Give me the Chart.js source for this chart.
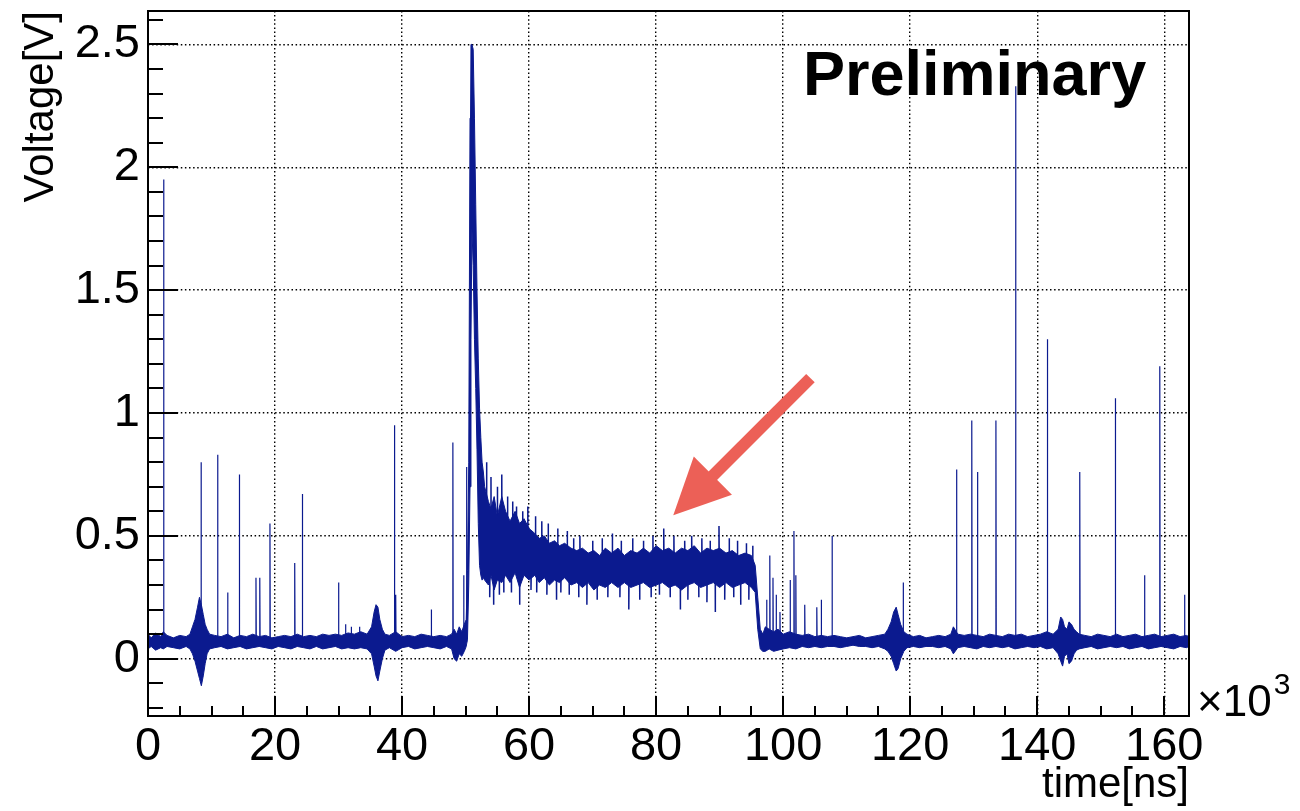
<!DOCTYPE html>
<html>
<head>
<meta charset="utf-8">
<title>Voltage vs time</title>
<script src="https://cdn.jsdelivr.net/npm/chart.js@4.4.1/dist/chart.umd.min.js"></script>
<style>
  html, body { margin: 0; padding: 0; background: #fff; }
  #wrap { width: 1300px; height: 811px; }
</style>
</head>
<body>
<div id="wrap"><canvas id="scope"></canvas></div>
<script>
// waveform: time in 10^3 ns, voltage in V
// the trace is kept as a band (upper / lower edge of the noise) ...
const envT = [
  0, 0.5, 1.2, 2, 2.4, 3, 4, 5, 6, 6.6,
  7.0, 7.4, 7.8, 8.1, 8.4, 8.7, 9.0, 9.3, 9.7,
  10.5, 11.5, 12.5, 13.5, 14.5, 15.5, 16.5, 17.5, 18.5, 19.5, 20.5, 21.5, 22.5,
  23.5, 24.5, 25.5, 26.5, 27.5, 28.5, 29.5, 30.5, 31.5, 32.5, 33.5, 34.5,
  35.2, 35.6, 35.9, 36.2, 36.5, 36.9, 37.3,
  38, 39, 40, 41, 42, 43, 44, 45, 46, 47, 47.8,
  48.2, 48.6, 49.0, 49.4, 49.8, 50.1,
  50.3, 50.5, 50.7, 50.85, 51.0, 51.2, 51.4, 51.6, 51.8, 52.0, 52.2, 52.4, 52.6, 52.8,
  53.0, 53.6, 54.0, 54.5, 55.0, 55.7, 56.3, 57.0, 57.8, 58.5, 59.2, 60.0, 60.9,
  61.6, 62.4, 63.2, 64.0, 64.8, 65.6, 66.6, 67.5, 68.4, 69.3, 70.2, 71.1, 72.0,
  73, 74, 75, 76, 77, 78, 79, 80, 81, 82, 83, 84, 85, 86, 87, 88, 89, 90, 91, 92, 93, 94, 95,
  95.6, 96.0, 96.4, 96.8,
  97.2, 97.8, 98.5, 99.2, 100, 101, 102, 103, 104, 105, 106, 107, 108, 109, 110,
  111, 112, 113, 114, 115, 116,
  116.5, 117.0, 117.4, 117.8, 118.1, 118.5, 119.0, 119.5,
  120.5, 121.5, 122.5, 123.5, 124.5, 125.5, 126.4, 126.8, 127.5, 128.5, 129.5, 130.5,
  131.5, 132.5, 133.5, 134.5, 135.5, 136.5, 137.5, 138.5, 139.5, 140.5, 141.5, 142.5,
  143.3, 143.7, 144.0, 144.3, 144.7, 145.0, 145.4, 145.8, 146.2, 146.6,
  147.5, 148.5, 149.5, 150.5, 151.5, 152.5, 153.5, 154.5, 155.5, 156.5, 157.5,
  158.5, 159.5, 160.5, 161.5, 162.5, 163.5, 163.9
];
const envHi = [
  0.10, 0.085, 0.105, 0.09, 0.11, 0.095, 0.085, 0.095, 0.09, 0.10,
  0.13, 0.16, 0.21, 0.25, 0.22, 0.18, 0.14, 0.12, 0.10,
  0.095, 0.09, 0.10, 0.085, 0.095, 0.09, 0.10, 0.09, 0.095, 0.085, 0.09, 0.095, 0.09,
  0.10, 0.09, 0.095, 0.09, 0.10, 0.095, 0.10, 0.095, 0.105, 0.10, 0.11, 0.10,
  0.13, 0.19, 0.22, 0.21, 0.16, 0.12, 0.10,
  0.095, 0.11, 0.09, 0.095, 0.09, 0.10, 0.095, 0.09, 0.095, 0.09, 0.10,
  0.12, 0.10, 0.13, 0.11, 0.14, 0.16,
  0.36, 0.80, 2.20, 2.50, 2.50, 2.48, 2.20, 1.85, 1.50, 1.22, 1.02, 0.90, 0.80, 0.76,
  0.70, 0.64, 0.61, 0.66, 0.58, 0.66, 0.60, 0.56, 0.60, 0.55, 0.57, 0.53, 0.51,
  0.49, 0.50, 0.47, 0.48, 0.46, 0.47, 0.45, 0.44, 0.45, 0.43, 0.44, 0.42, 0.45,
  0.43, 0.45, 0.42, 0.44, 0.43, 0.45, 0.43, 0.46, 0.44, 0.45, 0.43, 0.45, 0.44, 0.46, 0.43, 0.45, 0.44, 0.45, 0.43, 0.44, 0.42, 0.43, 0.42,
  0.38, 0.25, 0.12, 0.10,
  0.13, 0.12, 0.11, 0.12, 0.10, 0.11, 0.10, 0.095, 0.10, 0.09, 0.095, 0.09, 0.095, 0.09, 0.085,
  0.09, 0.095, 0.085, 0.09, 0.095, 0.10,
  0.12, 0.15, 0.19, 0.21, 0.18, 0.14, 0.11, 0.10,
  0.09, 0.095, 0.085, 0.09, 0.095, 0.09, 0.10, 0.13, 0.10, 0.095, 0.10, 0.095,
  0.09, 0.10, 0.095, 0.09, 0.10, 0.095, 0.10, 0.09, 0.095, 0.10, 0.11, 0.10,
  0.12, 0.17, 0.16, 0.13, 0.12, 0.15, 0.14, 0.12, 0.11, 0.10,
  0.095, 0.09, 0.10, 0.095, 0.09, 0.10, 0.09, 0.095, 0.10, 0.09, 0.095,
  0.10, 0.09, 0.095, 0.10, 0.09, 0.095, 0.09
];
const envLo = [
  0.04, 0.05, 0.035, 0.045, 0.04, 0.05, 0.045, 0.04, 0.05, 0.04,
  0.02, -0.01, -0.05, -0.08, -0.11, -0.07, -0.02, 0.02, 0.04,
  0.045, 0.05, 0.04, 0.045, 0.05, 0.04, 0.045, 0.05, 0.045, 0.04, 0.05, 0.045, 0.04,
  0.05, 0.045, 0.04, 0.05, 0.04, 0.045, 0.05, 0.04, 0.045, 0.04, 0.045, 0.04,
  0.02, -0.03, -0.07, -0.09, -0.05, 0.0, 0.035,
  0.045, 0.03, 0.045, 0.05, 0.04, 0.045, 0.05, 0.045, 0.04, 0.05, 0.04,
  0.0, -0.01, 0.02, 0.01, 0.03, 0.05,
  0.08, 0.30, 0.70, 1.30, 1.75, 1.60, 1.30, 1.10, 0.85, 0.55, 0.38, 0.34, 0.32, 0.33,
  0.32, 0.30, 0.34, 0.28, 0.32, 0.31, 0.34, 0.31, 0.35, 0.29, 0.34, 0.32, 0.34,
  0.31, 0.33, 0.30, 0.32, 0.31, 0.33, 0.30, 0.31, 0.29, 0.31, 0.28, 0.30, 0.29,
  0.31, 0.29, 0.31, 0.29, 0.30, 0.31, 0.29, 0.30, 0.31, 0.29, 0.30, 0.28, 0.30, 0.31, 0.29, 0.30, 0.31, 0.29, 0.31, 0.29, 0.30, 0.31, 0.29,
  0.27, 0.12, 0.04, 0.03,
  0.03, 0.04, 0.03, 0.035, 0.04, 0.045, 0.04, 0.05, 0.045, 0.05, 0.045, 0.05, 0.05, 0.045, 0.05,
  0.055, 0.05, 0.05, 0.045, 0.05, 0.04,
  0.03, 0.01, -0.02, -0.05, -0.04, 0.0, 0.03, 0.045,
  0.05, 0.045, 0.05, 0.05, 0.045, 0.05, 0.04, 0.02, 0.045, 0.05, 0.045, 0.04,
  0.05, 0.045, 0.05, 0.045, 0.05, 0.04, 0.045, 0.05, 0.045, 0.05, 0.04, 0.045,
  0.02, -0.01, -0.03, 0.01, 0.02, -0.02, -0.01, 0.02, 0.035, 0.04,
  0.045, 0.05, 0.04, 0.045, 0.05, 0.045, 0.05, 0.04, 0.045, 0.05, 0.04,
  0.045, 0.05, 0.045, 0.04, 0.05, 0.045, 0.05
];

// ... plus single-sample spikes standing on the baseline
const baseLevel = 0.07;
const spikeT = [2.46, 8.35, 10.96, 12.54, 14.38, 17.0, 17.6, 19.2, 23.1, 24.3, 30.0, 31.1, 32.0, 33.3,
  38.8, 39.0, 44.6, 48.0, 49.7, 50.15,
  97.4, 97.9, 98.4, 98.9, 99.5, 101.1, 101.7, 102.0, 103.4, 105.3, 106.0, 107.7,
  118.9, 127.3, 129.7, 130.6, 133.5, 136.6, 141.6, 146.7, 152.3, 156.9, 159.3, 163.2];
const spikeV = [1.95, 0.80, 0.83, 0.27, 0.75, 0.33, 0.33, 0.55, 0.39, 0.67, 0.31, 0.14, 0.13, 0.13,
  0.95, 0.26, 0.20, 0.88, 0.34, 0.78,
  0.24, 0.42, 0.33, 0.26, 0.19, 0.32, 0.52, 0.34, 0.22, 0.21, 0.24, 0.50,
  0.31, 0.77, 0.97, 0.76, 0.97, 2.33, 1.30, 0.76, 1.06, 0.34, 1.19, 0.26];

// ... and spikes / dips inside the long pulse
const pulseLevel = 0.37;
const pulseSpikeT = [
  53.3, 54.0, 55.0, 55.7, 56.6, 57.4, 58.0, 59.0, 59.8, 61.0, 62.0, 63.0, 64.5, 66.0, 67.0, 68.0,
  70.0, 71.5, 73.1, 74.5, 76.3, 78.0, 79.5, 81.2, 82.8, 84.5, 85.6, 87.2, 88.5, 89.9, 91.5, 92.8, 94.2, 95.2,
  53.8, 54.4, 55.3, 56.0, 57.2, 58.5, 60.3, 61.2, 62.8, 64.3, 65.0, 66.3, 67.8, 69.1, 70.7, 72.4,
  74.3, 75.7, 77.4, 79.2, 80.5, 82.2, 83.8, 85.0, 86.7, 88.0, 89.3, 90.8, 92.2, 93.3, 94.6
];
const pulseSpikeV = [
  0.80, 0.74, 0.70, 0.75, 0.66, 0.64, 0.62, 0.60, 0.62, 0.58, 0.56, 0.55, 0.53, 0.52, 0.49, 0.50,
  0.48, 0.49, 0.51, 0.48, 0.49, 0.48, 0.50, 0.53, 0.50, 0.48, 0.50, 0.49, 0.48, 0.54, 0.49, 0.48, 0.47, 0.46,
  0.25, 0.22, 0.26, 0.27, 0.27, 0.22, 0.28, 0.27, 0.26, 0.24, 0.27, 0.26, 0.25, 0.22, 0.24, 0.25,
  0.25, 0.20, 0.24, 0.25, 0.26, 0.25, 0.20, 0.24, 0.25, 0.23, 0.19, 0.24, 0.25, 0.22, 0.24
];

// axes
const xRange = [0, 163.9];
const yRange = [-0.233, 2.636];
const xTickValues = [0, 20, 40, 60, 80, 100, 120, 140, 160];
const yTickValues = [0, 0.5, 1, 1.5, 2, 2.5];
const yTickLabels = ['0', '0.5', '1', '1.5', '2', '2.5'];

const traceColor = '#0b1a8f';
const labelFont = 'Liberation Sans, Arial, Helvetica, sans-serif';

function spikePoints(ts, vs, level) {
  const pts = [];
  ts.forEach((t, i) => {
    pts.push({x: t, y: level}, {x: t, y: vs[i]}, {x: t + 0.05, y: level}, {x: t + 0.05, y: null});
  });
  return pts;
}

// ROOT style frame, inward ticks, labels and the red arrow
const scopeDecor = {
  id: 'scopeDecor',
  afterDraw(chart, args, opts) {
    const {ctx, chartArea: a, scales: {x, y}} = chart;
    ctx.save();
    ctx.strokeStyle = '#000';
    ctx.lineWidth = 2;
    ctx.beginPath();
    for (let k = 0; k * 5 <= x.max; k++) {
      const px = Math.round(x.getPixelForValue(k * 5));
      const len = k % 4 === 0 ? 20 : 10;
      ctx.moveTo(px, a.bottom);
      ctx.lineTo(px, a.bottom - len);
    }
    for (let k = Math.ceil(y.min * 10); k <= Math.floor(y.max * 10); k++) {
      const py = Math.round(y.getPixelForValue(k / 10));
      const len = k % 5 === 0 ? 30 : 15;
      ctx.moveTo(a.left, py);
      ctx.lineTo(a.left + len, py);
    }
    ctx.stroke();
    ctx.strokeRect(a.left, a.top, a.right - a.left, a.bottom - a.top);

    // arrow
    const tx = x.getPixelForValue(opts.arrowTip[0]), ty = y.getPixelForValue(opts.arrowTip[1]);
    const sx = x.getPixelForValue(opts.arrowTail[0]), sy = y.getPixelForValue(opts.arrowTail[1]);
    const ang = Math.atan2(ty - sy, tx - sx);
    const hl = 56, hw = 27;
    const bx = tx - hl * Math.cos(ang), by = ty - hl * Math.sin(ang);
    ctx.strokeStyle = opts.arrowColor;
    ctx.fillStyle = opts.arrowColor;
    ctx.lineWidth = 12;
    ctx.lineCap = 'butt';
    ctx.beginPath();
    ctx.moveTo(sx, sy);
    ctx.lineTo(bx + 4 * Math.cos(ang), by + 4 * Math.sin(ang));
    ctx.stroke();
    ctx.beginPath();
    ctx.moveTo(tx, ty);
    ctx.lineTo(bx + hw * Math.sin(ang), by - hw * Math.cos(ang));
    ctx.lineTo(bx - hw * Math.sin(ang), by + hw * Math.cos(ang));
    ctx.closePath();
    ctx.fill();

    // texts
    ctx.fillStyle = '#000';
    ctx.textBaseline = 'alphabetic';
    ctx.textAlign = 'left';
    ctx.font = 'bold 63px ' + labelFont;
    ctx.fillText('Preliminary', a.left + 655, a.top + 84);
    ctx.font = '44px ' + labelFont;
    ctx.fillText('\u00d710', a.right + 8, a.bottom);
    const w = ctx.measureText('\u00d710').width;
    ctx.font = '30px ' + labelFont;
    ctx.fillText('3', a.right + 8 + w + 2, a.bottom - 22);
    ctx.restore();
  }
};

new Chart(document.getElementById('scope'), {
  type: 'line',
  data: {
    datasets: [
      {
        label: 'upper',
        data: envT.map((t, i) => ({x: t, y: envHi[i]})),
        borderColor: traceColor,
        borderWidth: 1,
        pointRadius: 0,
        fill: false
      },
      {
        label: 'lower',
        data: envT.map((t, i) => ({x: t, y: envLo[i]})),
        borderColor: traceColor,
        backgroundColor: traceColor,
        borderWidth: 1,
        pointRadius: 0,
        fill: '-1'
      },
      {
        label: 'spikes',
        data: spikePoints(spikeT, spikeV, baseLevel),
        borderColor: traceColor,
        borderWidth: 1.2,
        pointRadius: 0,
        spanGaps: false,
        fill: false
      },
      {
        label: 'pulse spikes',
        data: spikePoints(pulseSpikeT, pulseSpikeV, pulseLevel),
        borderColor: traceColor,
        borderWidth: 1.5,
        pointRadius: 0,
        spanGaps: false,
        fill: false
      }
    ]
  },
  options: {
    responsive: true,
    maintainAspectRatio: false,
    devicePixelRatio: 1,
    animation: false,
    layout: {padding: {left: 0, right: 111, top: 11, bottom: 0}},
    plugins: {
      legend: {display: false},
      tooltip: {enabled: false},
      scopeDecor: {
        arrowTail: [104.3, 1.142],
        arrowTip: [82.7, 0.584],
        arrowColor: '#ec6057'
      }
    },
    elements: {line: {tension: 0}},
    scales: {
      x: {
        type: 'linear',
        min: xRange[0],
        max: xRange[1],
        afterBuildTicks: s => { s.ticks = xTickValues.map(v => ({value: v})); },
        afterFit: s => { s.height = 95; s.paddingLeft = 0; s.paddingRight = 0; },
        grid: {color: '#000', lineWidth: 1.4, drawTicks: false},
        border: {display: false, dash: [1.5, 2.6]},
        ticks: {
          color: '#000',
          padding: 3,
          maxRotation: 0,
          autoSkip: false,
          font: {family: labelFont, size: 47},
          callback: v => String(v)
        },
        title: {
          display: true,
          text: 'time[ns]',
          align: 'end',
          color: '#000',
          font: {family: labelFont, size: 42},
          padding: {top: 0, bottom: 0}
        }
      },
      y: {
        type: 'linear',
        min: yRange[0],
        max: yRange[1],
        afterBuildTicks: s => { s.ticks = yTickValues.map(v => ({value: v})); },
        afterFit: s => { s.width = 148; s.paddingTop = 0; s.paddingBottom = 0; },
        grid: {color: '#000', lineWidth: 1.4, drawTicks: false},
        border: {display: false, dash: [1.5, 2.6]},
        ticks: {
          color: '#000',
          padding: 8,
          autoSkip: false,
          font: {family: labelFont, size: 47},
          callback: (v, i) => yTickLabels[i]
        },
        title: {
          display: true,
          text: 'Voltage[V]',
          align: 'end',
          color: '#000',
          font: {family: labelFont, size: 42},
          padding: {top: 16, bottom: 0}
        }
      }
    }
  },
  plugins: [scopeDecor]
});
</script>
</body>
</html>
